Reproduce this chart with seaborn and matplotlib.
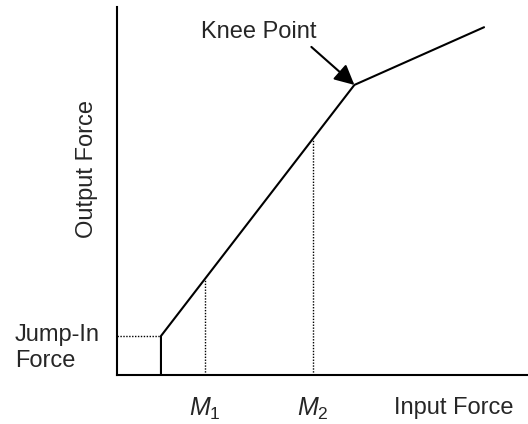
import matplotlib
matplotlib.use('Agg')
import matplotlib.pyplot as plt
import seaborn as sns
import pandas as pd

sns.set_style('white')
plt.rcParams['font.family'] = ['Liberation Sans', 'DejaVu Sans']
plt.rcParams['mathtext.fontset'] = 'custom'
plt.rcParams['mathtext.rm'] = 'Liberation Sans'
plt.rcParams['mathtext.it'] = 'Liberation Sans:italic'

# input/output force curve (arbitrary units)
input_force = [1.0, 1.0, 5.4, 8.35]
output_force = [0.0, 1.0, 7.44, 8.92]

jump_in = 1.0
jump_in_x = 1.0
knee = (5.4, 7.44)

m_positions = [2.0, 4.45]
m_outputs = [2.44, 6.03]
m_labels = ['$M_1$', '$M_2$']

curve = pd.DataFrame({'Input Force': input_force, 'Output Force': output_force})

fig = plt.figure(figsize=(5.28, 4.24), dpi=100)
ax = fig.add_axes([0.2216, 0.1156, 0.7784, 0.868])

sns.lineplot(data=curve, x='Input Force', y='Output Force', ax=ax,
             estimator=None, sort=False, color='black', lw=1.5)

# dotted guides
for m, h in zip(m_positions, m_outputs):
    ax.plot([m, m], [0, h], ls=(0, (1, 1.1)), color='black', lw=1.0)
ax.plot([0, jump_in_x], [jump_in, jump_in], ls=(0, (1, 1.1)), color='black', lw=1.0)

ax.set_xlim(0, 9.35)
ax.set_ylim(0, 9.44)
sns.despine(ax=ax)
for s in ['left', 'bottom']:
    ax.spines[s].set_linewidth(1.5)
    ax.spines[s].set_color('black')

ax.set_xticks(m_positions)
ax.set_xticklabels(m_labels, fontsize=18)
ax.set_yticks([])
ax.tick_params(axis='x', length=0, pad=15)
ax.set_xlabel('')
ax.set_ylabel('')

fig.text(454 / 528, 1 - 408 / 424, 'Input Force', fontsize=17, ha='center', va='center')
fig.text(87 / 528, 1 - 169 / 424, 'Output Force', fontsize=17, rotation=90,
         ha='center', va='center')
fig.text(15 / 528, 1 - 348 / 424, 'Jump-In\nForce', fontsize=17, ha='left',
         va='center', linespacing=1.2)

ax.annotate('', xy=knee, xytext=(-43, 38), textcoords='offset pixels',
            arrowprops=dict(arrowstyle='-|>', mutation_scale=30, lw=1.5,
                            color='black', shrinkA=0, shrinkB=0))
ax.annotate('Knee Point', xy=knee, xytext=(-96, 53), textcoords='offset pixels',
            fontsize=17, ha='center', va='center')

fig.savefig('out.png', dpi=100)
